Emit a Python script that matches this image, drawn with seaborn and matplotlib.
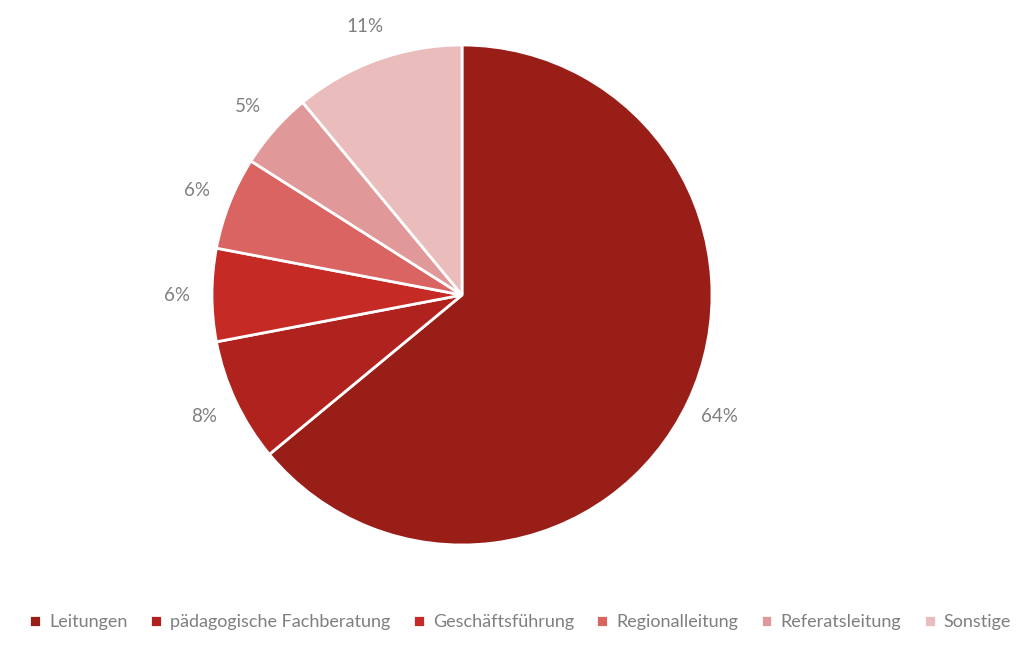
import matplotlib
matplotlib.use("Agg")
import matplotlib.pyplot as plt
import seaborn as sns

# Data
categories = ["Leitungen", "pädagogische Fachberatung", "Geschäftsführung",
              "Regionalleitung", "Referatsleitung", "Sonstige"]
shares = [64, 8, 6, 6, 5, 11]
colors = ["#9A1E18", "#B0221E", "#C62A24", "#D96461", "#E09898", "#EBBCBC"]

sns.set_theme(style="white")
plt.rcParams["font.family"] = ["Lato", "DejaVu Sans"]

W, H = 1024, 647
fig = plt.figure(figsize=(W / 100, H / 100), dpi=100)
cx, cy, r = 462, 295, 250
ax = fig.add_axes([(cx - r) / W, (H - cy - r) / H, 2 * r / W, 2 * r / H])

palette = sns.color_palette(colors)
wedges, texts = ax.pie(
    shares,
    colors=palette,
    startangle=90,
    counterclock=False,
    radius=1.0,
    labels=[f"{v}%" for v in shares],
    labeldistance=1.14,
    wedgeprops=dict(edgecolor="white", linewidth=2),
    textprops=dict(color="#808080", fontsize=13.5),
)
for t in texts:
    t.set_horizontalalignment("center")
    t.set_verticalalignment("center")
ax.set_xlim(-1, 1)
ax.set_ylim(-1, 1)
ax.set_aspect("equal")
ax.axis("off")

fig.legend(
    wedges, categories,
    loc="center", bbox_to_anchor=(0.508, 1 - 622 / H),
    ncol=6, frameon=False, fontsize=13,
    handlelength=0.65, handleheight=0.65, handletextpad=0.45,
    columnspacing=1.25, labelcolor="#7f7f7f",
)

fig.savefig("out.png", dpi=100, facecolor="white")
